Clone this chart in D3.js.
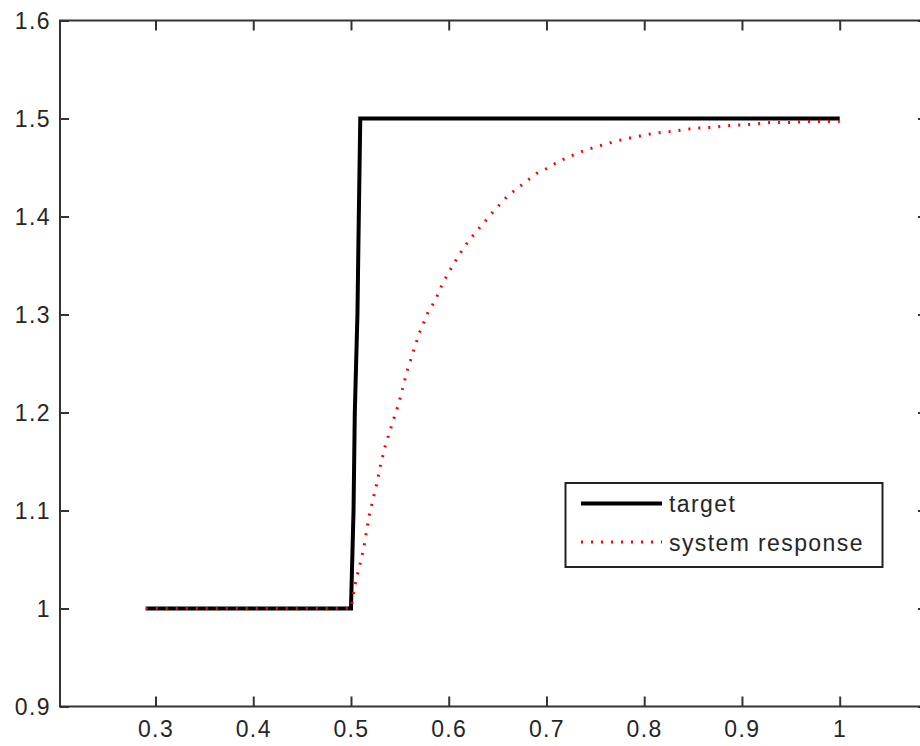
<!DOCTYPE html>
<html>
<head>
<meta charset="utf-8">
<script src="https://cdn.jsdelivr.net/npm/d3@7"></script>
<style>
  body { margin: 0; background: #fff; }
  svg { display: block; }
  text { font-family: "Liberation Sans", Arial, sans-serif; font-size: 23px; fill: #262626; letter-spacing: 1.4px; }
</style>
</head>
<body>
<script>
// Data

var xTicks = [0.3, 0.4, 0.5, 0.6, 0.7, 0.8, 0.9, 1];
var xTickLabels = ['0.3', '0.4', '0.5', '0.6', '0.7', '0.8', '0.9', '1'];
var yTicks = [0.9, 1, 1.1, 1.2, 1.3, 1.4, 1.5, 1.6];
var yTickLabels = ['0.9', '1', '1.1', '1.2', '1.3', '1.4', '1.5', '1.6'];

// target (black step)
var targetT = [0.29, 0.5, 0.5026, 0.5039, 0.5066, 0.508, 0.5095, 1.0];
var targetY = [1, 1, 1.1, 1.2, 1.3, 1.4, 1.5, 1.5];

// system response (red dotted)
var respT = [0.29, 0.5, 0.5041, 0.5092, 0.5133, 0.5184, 0.5263, 0.5304, 0.5348,
    0.5423, 0.5491, 0.557, 0.5624, 0.5699, 0.5791, 0.586, 0.5938, 0.6041, 0.6133,
    0.6218, 0.632, 0.6422, 0.6511, 0.6603, 0.6706, 0.6808, 0.69, 0.7002, 0.7105,
    0.7207, 0.7302, 0.7405, 0.7507, 0.7609, 0.7711, 0.7896, 0.81, 0.8305, 0.851,
    0.8697, 0.8898, 0.9103, 0.9307, 0.9512, 0.9696, 0.9901, 1.0];
var respY = [1, 1, 1.024, 1.045, 1.063, 1.094, 1.127, 1.147, 1.165,
    1.189, 1.21, 1.241, 1.258, 1.281, 1.303, 1.314, 1.332, 1.35, 1.365,
    1.377, 1.389, 1.401, 1.411, 1.421, 1.429, 1.437, 1.444, 1.449, 1.455,
    1.46, 1.464, 1.468, 1.471, 1.474, 1.477, 1.481, 1.485, 1.487, 1.49,
    1.491, 1.493, 1.494, 1.496, 1.496, 1.497, 1.497, 1.497];

var legendLabels = ['target', 'system response'];

// ===========================================================================
// Layout

var W = 920, H = 746;
var box = { left: 60, right: 927, top: 20.5, bottom: 706.5 };

var x = d3.scaleLinear().domain([0.3, 1]).range([155.5, 839.7]);
var y = d3.scaleLinear().domain([0.9, 1.6]).range([box.bottom, box.top]);

var svg = d3.select('body').append('svg')
    .attr('width', W)
    .attr('height', H);

var axisColor = '#333';
var fontFamily = '"Liberation Sans", Arial, sans-serif';

// Axes: ticks point inward on all four sides
function styleAxis(g) {
    g.select('.domain').remove();
    g.selectAll('.tick line').attr('stroke', axisColor).attr('stroke-width', 2);
}

svg.append('g')
    .attr('transform', 'translate(0,' + box.bottom + ')')
    .call(d3.axisBottom(x).tickValues(xTicks).tickSizeInner(-10).tickSizeOuter(0)
        .tickPadding(0).tickFormat(function (d, i) { return xTickLabels[i]; }))
    .call(styleAxis)
    .call(function (g) {
        g.selectAll('.tick text')
            .attr('y', 30.5)
            .attr('dy', null)
            .attr('fill', '#262626')
            .style('font-size', '23px')
            .style('font-family', fontFamily);
    });

svg.append('g')
    .attr('transform', 'translate(0,' + box.top + ')')
    .call(d3.axisTop(x).tickValues(xTicks).tickSizeInner(-10).tickSizeOuter(0)
        .tickFormat(''))
    .call(styleAxis);

svg.append('g')
    .attr('transform', 'translate(' + box.left + ',0)')
    .call(d3.axisLeft(y).tickValues(yTicks).tickSizeInner(-9).tickSizeOuter(0)
        .tickPadding(0).tickFormat(function (d, i) { return yTickLabels[i]; }))
    .call(styleAxis)
    .call(function (g) {
        g.selectAll('.tick text')
            .attr('x', -9)
            .attr('dy', '0.36em')
            .attr('fill', '#262626')
            .style('font-size', '23px')
            .style('font-family', fontFamily);
    });

svg.append('g')
    .attr('transform', 'translate(' + box.right + ',0)')
    .call(d3.axisRight(y).tickValues(yTicks).tickSizeInner(-9).tickSizeOuter(0)
        .tickFormat(''))
    .call(styleAxis);

// Box around plot
svg.append('rect')
    .attr('x', box.left)
    .attr('y', box.top)
    .attr('width', box.right - box.left)
    .attr('height', box.bottom - box.top)
    .attr('fill', 'none')
    .attr('stroke', axisColor)
    .attr('stroke-width', 2);

// Lines
var line = d3.line()
    .x(function (d) { return x(d[0]); })
    .y(function (d) { return y(d[1]); });

var target = d3.zip(targetT, targetY);
var resp = d3.zip(respT, respY);

svg.append('path')
    .datum(target)
    .attr('d', line)
    .attr('fill', 'none')
    .attr('stroke', '#000')
    .attr('stroke-width', 4);

svg.append('path')
    .datum(resp)
    .attr('d', line)
    .attr('fill', 'none')
    .attr('stroke', '#ff0000')
    .attr('stroke-width', 3)
    .attr('stroke-dasharray', '2,8');

// Legend
var lg = svg.append('g').attr('class', 'legend');

lg.append('rect')
    .attr('x', 565.5)
    .attr('y', 483)
    .attr('width', 317)
    .attr('height', 84)
    .attr('fill', '#fff')
    .attr('stroke', '#222')
    .attr('stroke-width', 2);

var legendStyles = [
    { stroke: '#000', width: 4, dash: null },
    { stroke: '#ff0000', width: 3, dash: '2,8' }
];

legendLabels.forEach(function (label, i) {
    var ly = 503.5 + i * 38.5;
    lg.append('line')
        .attr('x1', 581)
        .attr('x2', 662)
        .attr('y1', ly)
        .attr('y2', ly)
        .attr('stroke', legendStyles[i].stroke)
        .attr('stroke-width', legendStyles[i].width)
        .attr('stroke-dasharray', legendStyles[i].dash);
    lg.append('text')
        .attr('x', 669)
        .attr('y', ly + 8.5)
        .text(label);
});
</script>
</body>
</html>
